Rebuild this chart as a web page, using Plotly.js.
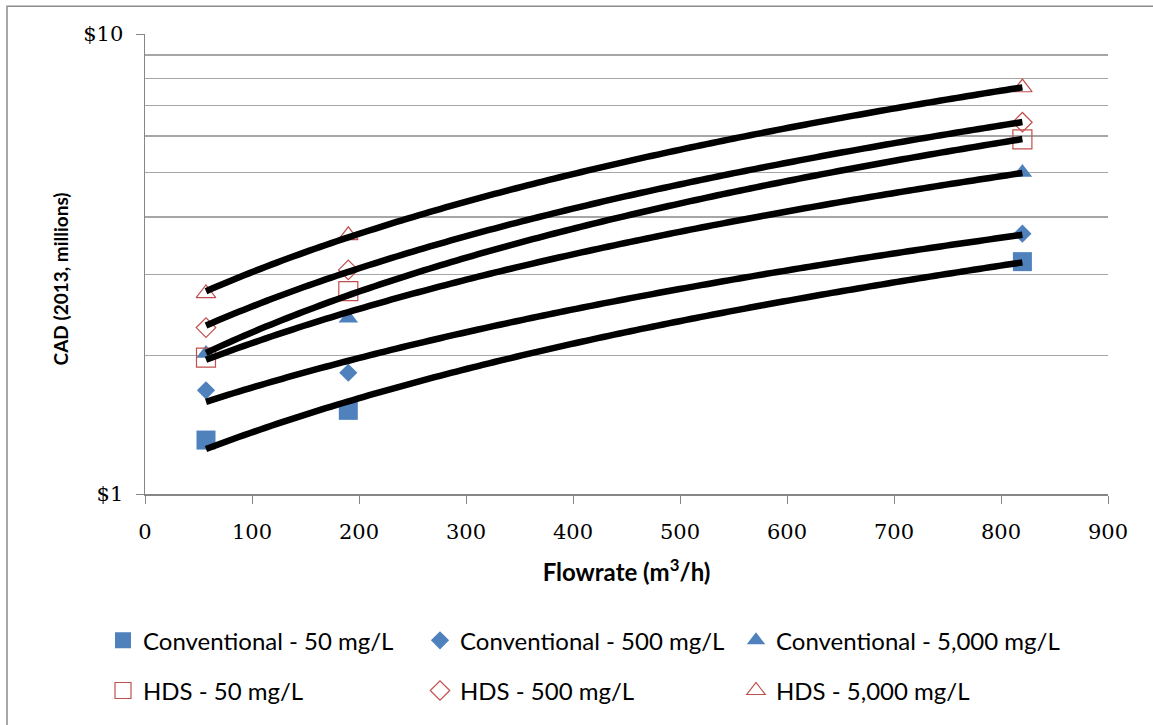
<!DOCTYPE html>
<html>
<head>
<meta charset="utf-8">
<script src="https://cdn.plot.ly/plotly-3.0.1.min.js"></script>
<style>
html,body{margin:0;padding:0;background:#fff;}
#chart{width:1153px;height:725px;}
</style>
</head>
<body>
<div id="chart"></div>
<script>
// ---- data ----
const flowrate = [57, 190, 820];               // m3/h
const conv50   = [1.31, 1.52, 3.20];           // CAD millions
const conv500  = [1.68, 1.835, 3.68];
const conv5000 = [2.02, 2.41, 5.00];
const hds50    = [1.98, 2.76, 5.90];
const hds500   = [2.30, 3.07, 6.43];
const hds5000  = [2.73, 3.65, 7.65];

const seriesNames = [
  "Conventional - 50 mg/L", "Conventional - 500 mg/L", "Conventional - 5,000 mg/L",
  "HDS - 50 mg/L", "HDS - 500 mg/L", "HDS - 5,000 mg/L"
];
const xTickVals = [0,100,200,300,400,500,600,700,800,900];
const yTickVals = [1, 10];
const yTickText = ["$1", "$10"];
const yGridVals = [2,3,4,5,6,7,8,9];
const xTitle = "<b>Flowrate (m<sup>3</sup>/h)</b>";
const yTitle = "<b>CAD (2013, millions)</b>";

const BLUE = "#4F81BD", RED = "#C0504D";
const series = [
  {y: conv50,   name: seriesNames[0], symbol: "square",           size: 19, color: BLUE, open: false, legend: "legend"},
  {y: conv500,  name: seriesNames[1], symbol: "diamond",          size: 14, color: BLUE, open: false, legend: "legend2"},
  {y: conv5000, name: seriesNames[2], symbol: "triangle-up",      size: 17, color: BLUE, open: false, legend: "legend3"},
  {y: hds50,    name: seriesNames[3], symbol: "square-open",      size: 19, color: RED,  open: true,  legend: "legend"},
  {y: hds500,   name: seriesNames[4], symbol: "diamond-open",     size: 15, color: RED,  open: true,  legend: "legend2"},
  {y: hds5000,  name: seriesNames[5], symbol: "triangle-up-open", size: 17, color: RED,  open: true,  legend: "legend3"}
];

// linear least-squares trendline (as the spreadsheet's linear trendline), sampled for a log axis
function linearFit(xs, ys){
  const n = xs.length;
  const mx = xs.reduce((a,b)=>a+b,0)/n, my = ys.reduce((a,b)=>a+b,0)/n;
  let sxy=0, sxx=0;
  for(let i=0;i<n;i++){ sxy += (xs[i]-mx)*(ys[i]-my); sxx += (xs[i]-mx)*(xs[i]-mx); }
  const b = sxy/sxx, a = my - b*mx;
  const x0 = Math.min(...xs), x1 = Math.max(...xs), N = 150;
  const tx = [], ty = [];
  for(let k=0;k<=N;k++){ const x = x0 + (x1-x0)*k/N; tx.push(x); ty.push(a + b*x); }
  return {tx, ty};
}

const traces = [];
series.forEach((s, i) => {
  traces.push({
    type: "scatter", mode: "markers", x: flowrate, y: s.y, name: s.name,
    legend: s.legend, legendgroup: "g"+i,
    marker: {symbol: s.symbol, size: s.size, color: s.color,
             line: {color: s.color, width: s.open ? 1.2 : 0}},
    hoverinfo: "x+y+name"
  });
});
series.forEach((s, i) => {
  const f = linearFit(flowrate, s.y);
  traces.push({
    type: "scatter", mode: "lines", x: f.tx, y: f.ty, showlegend: false,
    line: {color: "#000", width: 6.5, simplify: false}, hoverinfo: "skip"
  });
});

const L = 145, R = 45, T = 34, B = 228;
const W = 1153 - L - R, H = 725 - T - B;
const px2x = p => (p - L)/W;
const py2y = p => (725 - B - p)/H;

const legendFont = {family: "Lato, 'Open Sans', sans-serif", size: 24, color: "#000"};
const legCommon = {orientation: "v", xanchor: "left", yanchor: "top", y: py2y(622),
  font: legendFont, tracegroupgap: 16, itemsizing: "trace", bgcolor: "rgba(0,0,0,0)", borderwidth: 0};

const layout = {
  width: 1153, height: 725,
  margin: {l: L, r: R, t: T, b: B},
  paper_bgcolor: "#fff", plot_bgcolor: "#fff",
  showlegend: true,
  font: {family: "Lato, 'Open Sans', sans-serif", color: "#000"},
  xaxis: {
    range: [0, 900], tickvals: xTickVals, ticks: "outside", ticklen: 8, tickcolor: "#868686",
    showline: true, linecolor: "#868686", linewidth: 1.5, showgrid: false, zeroline: false,
    tickfont: {family: "'DejaVu Serif', serif", size: 21, color: "#000"}, ticklabelstandoff: 10,
    automargin: true,
    title: {text: xTitle, font: {family: "Lato, sans-serif", size: 24, color: "#000"}, standoff: 21}
  },
  yaxis: {
    type: "log", range: [0, 1], tickvals: yTickVals, ticktext: yTickText,
    ticks: "outside", ticklen: 8, tickcolor: "#868686",
    showline: true, linecolor: "#868686", linewidth: 1.5, showgrid: true, gridcolor: "#A6A6A6", gridwidth: 1.2,
    zeroline: false,
    minor: {tickvals: yGridVals, showgrid: true, gridcolor: "#A6A6A6", gridwidth: 1.2, ticks: ""},
    tickfont: {family: "'DejaVu Serif', serif", size: 21, color: "#000"}, ticklabelstandoff: 8
  },
  annotations: [{
    text: yTitle, xref: "paper", yref: "paper", x: px2x(60), y: py2y(281),
    xanchor: "center", yanchor: "middle", textangle: -90, showarrow: false,
    font: {family: "Lato, sans-serif", size: 19, color: "#000"}
  }],
  legend:  Object.assign({}, legCommon, {x: px2x(103)}),
  legend2: Object.assign({}, legCommon, {x: px2x(420)}),
  legend3: Object.assign({}, legCommon, {x: px2x(736)}),
  shapes: [{
    type: "rect", xref: "paper", yref: "paper",
    x0: px2x(7), x1: px2x(1170), y0: py2y(740), y1: py2y(6),
    line: {color: "#8C8C8C", width: 1.5}, fillcolor: "rgba(0,0,0,0)", layer: "below"
  }]
};

Plotly.newPlot("chart", traces, layout, {displayModeBar: false, staticPlot: true});
</script>
</body>
</html>
